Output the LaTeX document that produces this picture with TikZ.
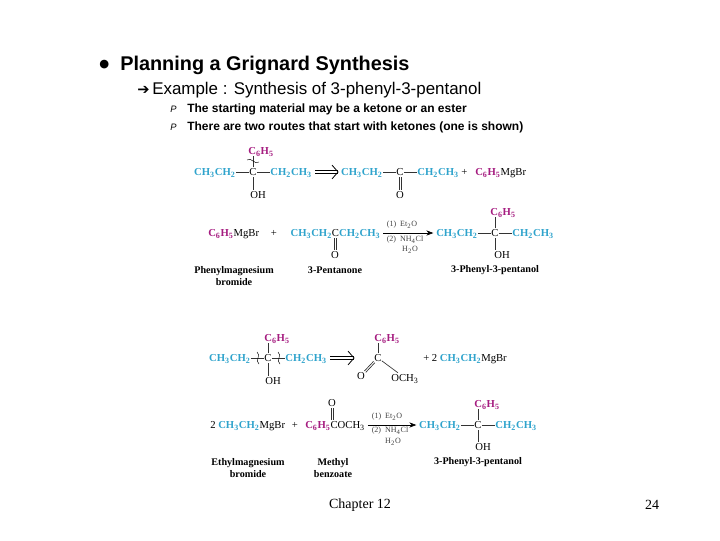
\documentclass[tikz,border=0pt]{standalone}
\usepackage{fontspec}
\setmainfont{Liberation Serif}
\newfontfamily\headfont{Liberation Sans}
\newfontfamily\symfont{DejaVu Sans}
\usepackage{xcolor}
\usetikzlibrary{arrows.meta,positioning}

\definecolor{ethylblue}{HTML}{2FA3CC}
\definecolor{phenylred}{HTML}{A51C80}
\newcommand{\sub}[1]{\textsubscript{#1}}
\newcommand{\ethyl}{\textcolor{ethylblue}{\textbf{CH\sub{3}CH\sub{2}}}}
\newcommand{\ethylr}{\textcolor{ethylblue}{\textbf{CH\sub{2}CH\sub{3}}}}
\newcommand{\phenyl}{\textcolor{phenylred}{\textbf{C\sub{6}H\sub{5}}}}
% open double arrow, from a node to a point
\newcommand{\retroarrow}[2]{%
  \draw[retro, shorten <=2.5pt, transform canvas={yshift=1.4pt}] (#1) -- (#2);
  \draw[retro, shorten <=2.5pt, transform canvas={yshift=-1.4pt}] (#1) -- (#2);
  \draw[retro] (#2) ++(-4.5pt,5.2pt) -- ++(4.5pt,-5.2pt) -- ++(-4.5pt,-5.2pt);
}
\newcommand{\dblbond}[4]{%
  \draw[bond, transform canvas={xshift=#3,yshift=#4}] #1 -- #2;
  \draw[bond, transform canvas={xshift=-#3,yshift=-#4}] #1 -- #2;
}

\begin{document}
\begin{tikzpicture}[
  x=0.75pt, y=-0.75pt,
  node distance=10pt,
  chem/.style={inner sep=0pt, font=\fontsize{8}{9}\selectfont, text height=6.5pt, text depth=1pt},
  reagent/.style={inner sep=0pt, font=\fontsize{6}{7}\selectfont, text=black!75},
  namelabel/.style={inner sep=0pt, align=center, font=\fontsize{7.6}{9}\selectfont\bfseries},
  headone/.style={inner sep=0pt, anchor=west, font=\headfont\fontsize{14.9}{16}\selectfont\bfseries},
  headtwo/.style={inner sep=0pt, anchor=west, font=\headfont\fontsize{12.7}{14}\selectfont},
  headthree/.style={inner sep=0pt, anchor=west, font=\headfont\fontsize{9}{10}\selectfont\bfseries},
  footer/.style={inner sep=0pt, font=\fontsize{10.5}{12}\selectfont},
  bond/.style={line width=0.5pt, black!80},
  retro/.style={line width=0.6pt, line join=miter},
  arrow/.style={->, >=Stealth, line width=0.5pt, shorten >=2pt, shorten <=2pt},
  cutmark/.style={line width=0.35pt}
]
\useasboundingbox (0,0) rectangle (720,540);

% heading
\node[headone] (bullet) at (99,65) {\symfont\fontsize{8.5}{12}\selectfont ●};
\node[headone] (title) at (120,65) {Planning a Grignard Synthesis};
\node[headtwo] (arrowmark) at (137,90) {\symfont\fontsize{11}{12}\selectfont ➔};
\node[headtwo] (example) at (152,90) {Example : Synthesis of 3-phenyl-3-pentanol};
\node[headthree] (marka) at (170,109) {\mdseries\fontsize{7}{8}\selectfont\textit{P}};
\node[headthree] (linea) at (187,109) {The starting material may be a ketone or an ester};
\node[headthree] (markb) at (170,127) {\mdseries\fontsize{7}{8}\selectfont\textit{P}};
\node[headthree] (lineb) at (187,127) {There are two routes that start with ketones (one is shown)};

% first retrosynthesis
\node[chem] (ca) at (253,172) {C};
\node[chem, left=of ca] (aleft) {\ethyl};
\node[chem, right=of ca] (aright) {\ethylr};
\node[chem] (aph) at (261,151) {\phenyl};
\node[chem] (aoh) at (258,195) {OH};
\node[chem] (cb) at (400,172) {C};
\node[chem, left=of cb] (bleft) {\ethyl};
\node[chem, right=of cb] (bright) {\ethylr};
\node[chem] (bo) at (400,195) {O};
\node[chem, anchor=west] (bplus) at (461,172) {+};
\node[chem, anchor=west] (bmg) at (475,172) {\phenyl MgBr};
\coordinate (atip) at (338,172);
\draw[bond] (aleft) -- (ca);
\draw[bond] (ca) -- (aright);
\draw[bond] (ca) -- (ca |- aph.south);
\draw[bond] (ca) -- (ca |- aoh.north);
\draw[bond] (bleft) -- (cb);
\draw[bond] (cb) -- (bright);
\dblbond{(cb)}{(bo)}{0.7pt}{0pt}
\retroarrow{aright}{atip}
\coordinate (cuta) at (253,161);
\draw[cutmark] (cuta) ++(-6,-1) to[bend left=40] ++(6,1) to[bend right=40] ++(6,1);

% ketone route
\node[chem, anchor=west] (dmg) at (208,233) {\phenyl MgBr};
\node[chem] (dplus) at (274,233) {+};
\node[chem] (dket) at (335.5,233) {\textcolor{ethylblue}{\textbf{CH\sub{3}CH\sub{2}}}C\textcolor{ethylblue}{\textbf{CH\sub{2}CH\sub{3}}}};
\node[chem] (do) at (335,255) {O};
\node[chem] (cd) at (495,233) {C};
\node[chem, left=of cd] (eleft) {\ethyl};
\node[chem, right=of cd] (eright) {\ethylr};
\node[chem] (eph) at (503,212) {\phenyl};
\node[chem] (eoh) at (502,255) {OH};
\dblbond{(dket.south -| do)}{(do)}{0.7pt}{0pt}
\draw[arrow] (dket) -- (eleft);
\draw[bond] (eleft) -- (cd);
\draw[bond] (cd) -- (eright);
\draw[bond] (cd) -- (cd |- eph.south);
\draw[bond] (cd) -- (cd |- eoh.north);
\node[reagent] (ra) at (402,225) {(1) \ Et\sub{2}O};
\node[reagent] (rb) at (405,240) {(2) \ NH\sub{4}Cl};
\node[reagent] (rc) at (410,250) {H\sub{2}O};
\node[namelabel] (na) at (234,276) {Phenylmagnesium\\bromide};
\node[namelabel] (nb) at (335,270) {3-Pentanone};
\node[namelabel] (nc) at (495,270) {3-Phenyl-3-pentanol};

% second retrosynthesis
\node[chem] (cf) at (268,358) {C};
\node[chem, left=of cf] (fleft) {\ethyl};
\node[chem, right=of cf] (fright) {\ethylr};
\node[chem] (fph) at (277,338) {\phenyl};
\node[chem] (foh) at (273,381) {OH};
\node[chem] (cg) at (378,358) {C};
\node[chem] (gph) at (387,338) {\phenyl};
\node[chem] (go) at (361,376) {O};
\node[chem] (gme) at (405,378) {OCH\sub{3}};
\node[chem, anchor=west] (gmg) at (423,358) {+ 2 \ethyl MgBr};
\coordinate (gtip) at (354,358);
\draw[bond] (fleft) -- (cf);
\draw[bond] (cf) -- (fright);
\draw[bond] (cf) -- (cf |- fph.south);
\draw[bond] (cf) -- (cf |- foh.north);
\draw[bond] (cg) -- (cg |- gph.south);
\dblbond{(cg)}{(go)}{0.5pt}{-0.5pt}
\draw[bond] (cg) -- (gme);
\retroarrow{fright}{gtip}
\coordinate (cutb) at (258,358);
\coordinate (cutc) at (279,358);
\draw[cutmark] (cutb) ++(-1,-6) to[bend left=40] ++(1,6) to[bend right=40] ++(1,6);
\draw[cutmark] (cutc) ++(-1,-6) to[bend left=40] ++(1,6) to[bend right=40] ++(1,6);

% ester route
\node[chem, anchor=west] (hmg) at (210,425) {2 \ethyl MgBr};
\node[chem] (hplus) at (295,425) {+};
\node[chem, anchor=west] (hest) at (305,425) {\phenyl COCH\sub{3}};
\node[chem] (ho) at (332,403) {O};
\node[chem] (ci) at (478,425) {C};
\node[chem, left=of ci] (ileft) {\ethyl};
\node[chem, right=of ci] (iright) {\ethylr};
\node[chem] (iph) at (487,404) {\phenyl};
\node[chem] (ioh) at (483,447) {OH};
\dblbond{(hest.north -| ho)}{(ho)}{0.7pt}{0pt}
\draw[arrow] (hest) -- (ileft);
\draw[bond] (ileft) -- (ci);
\draw[bond] (ci) -- (iright);
\draw[bond] (ci) -- (ci |- iph.south);
\draw[bond] (ci) -- (ci |- ioh.north);
\node[reagent] (rd) at (387,417) {(1) \ Et\sub{2}O};
\node[reagent] (re) at (390,431) {(2) \ NH\sub{4}Cl};
\node[reagent] (rf) at (393,442) {H\sub{2}O};
\node[namelabel] (nd) at (248,468) {Ethylmagnesium\\bromide};
\node[namelabel] (ne) at (333,468) {Methyl\\benzoate};
\node[namelabel] (nf) at (478,462) {3-Phenyl-3-pentanol};

% footer
\node[footer] (chapter) at (360,505) {Chapter 12};
\node[footer] (page) at (652,505) {24};

\end{tikzpicture}
\end{document}
